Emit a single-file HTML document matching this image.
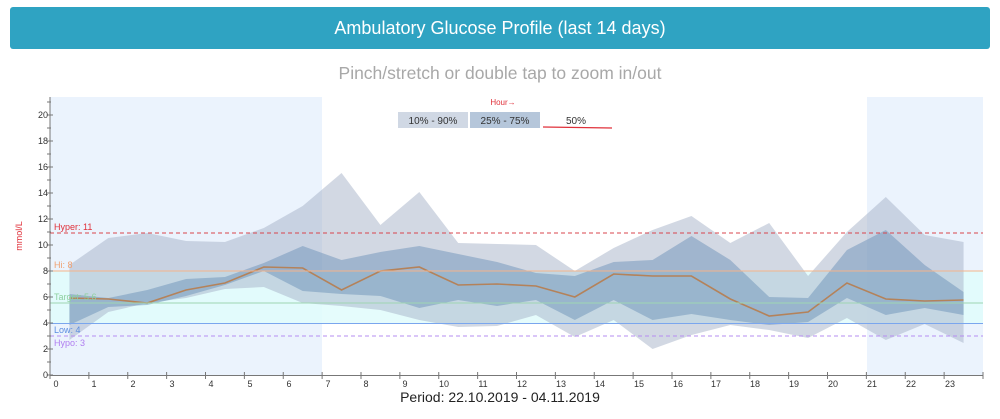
<!DOCTYPE html>
<html><head><meta charset="utf-8"><style>
body{margin:0;width:1000px;height:419px;background:#fff;font-family:"Liberation Sans",sans-serif;overflow:hidden;position:relative}
.hdr{position:absolute;left:10px;top:7px;width:980px;height:42px;background:#2fa3c2;border-radius:3px;color:#fff;font-size:18px;text-align:center;line-height:42px}
.sub{position:absolute;left:0;width:1000px;top:63px;text-align:center;color:#a8a8a8;font-size:17.5px}
svg{position:absolute;left:0;top:0}
</style></head><body>
<div class="hdr">Ambulatory Glucose Profile (last 14 days)</div>
<div class="sub">Pinch/stretch or double tap to zoom in/out</div>
<svg width="1000" height="419" font-family="Liberation Sans, sans-serif">
<rect x="50" y="97" width="272" height="278" fill="#ebf3fd"/>
<rect x="867" y="97" width="116" height="278" fill="#ebf3fd"/>
<rect x="50" y="271" width="933" height="52" fill="#e0fbfb" opacity="0.85"/>
<g id="bands"></g>
<line x1="50" y1="233" x2="983" y2="233" stroke="#d8444c" stroke-dasharray="4,3" stroke-width="1"/>
<line x1="50" y1="271" x2="983" y2="271" stroke="#f4b48a" stroke-width="1"/>
<line x1="50" y1="303" x2="983" y2="303" stroke="#9fd6b2" stroke-width="1"/>
<line x1="50" y1="323.5" x2="983" y2="323.5" stroke="#7aa6ee" stroke-width="1"/>
<line x1="50" y1="336" x2="983" y2="336" stroke="#b68cf2" stroke-dasharray="4,3" stroke-width="1"/>
<g font-size="9">
<text x="54" y="230" fill="#e0303a">Hyper: 11</text>
<text x="54" y="268" fill="#f0a070">Hi: 8</text>
<text x="54" y="300" fill="#8ed0a0">Target: 5.6</text>
<text x="54" y="333" fill="#5b8de0">Low: 4</text>
<text x="54" y="346" fill="#b07ef0">Hypo: 3</text>
</g>
<text x="22" y="236" font-size="9" fill="#e0303a" transform="rotate(-90 22 236)" text-anchor="middle">mmol/L</text>
<line x1="50" y1="97" x2="50" y2="376" stroke="#777"/>
<line x1="50" y1="375.5" x2="983" y2="375.5" stroke="#777"/>
<g id="ticks" stroke="#777"></g>
<g font-size="9" fill="#333" text-anchor="end">
<text x="48" y="378">0</text><text x="48" y="352">2</text><text x="48" y="326">4</text><text x="48" y="300">6</text><text x="48" y="274">8</text><text x="48" y="248">10</text><text x="48" y="222">12</text><text x="48" y="196">14</text><text x="48" y="170">16</text><text x="48" y="144">18</text><text x="48" y="118">20</text>
</g>
<g font-size="9" fill="#333" text-anchor="middle">
<text x="56" y="387">0</text><text x="94" y="387">1</text><text x="133" y="387">2</text><text x="172" y="387">3</text><text x="211" y="387">4</text><text x="250" y="387">5</text><text x="289" y="387">6</text><text x="328" y="387">7</text><text x="366" y="387">8</text><text x="405" y="387">9</text><text x="444" y="387">10</text><text x="483" y="387">11</text><text x="522" y="387">12</text><text x="561" y="387">13</text><text x="600" y="387">14</text><text x="639" y="387">15</text><text x="678" y="387">16</text><text x="716" y="387">17</text><text x="755" y="387">18</text><text x="794" y="387">19</text><text x="833" y="387">20</text><text x="872" y="387">21</text><text x="911" y="387">22</text><text x="950" y="387">23</text>
</g>
<text x="500" y="402" font-size="14" fill="#222" text-anchor="middle">Period: 22.10.2019 - 04.11.2019</text>
<text x="503" y="105" font-size="8" fill="#e0303a" text-anchor="middle">Hour→</text>
<rect x="398" y="112" width="70" height="16" fill="#d0d8e4"/>
<text x="433" y="124" font-size="10" fill="#333" text-anchor="middle">10% - 90%</text>
<rect x="470" y="112" width="70" height="16" fill="#b5c6da"/>
<text x="505" y="124" font-size="10" fill="#333" text-anchor="middle">25% - 75%</text>
<text x="576" y="124" font-size="10" fill="#333" text-anchor="middle">50%</text>
<line x1="543" y1="127" x2="612" y2="128" stroke="#e0303a" stroke-width="1.2"/>
</svg>
<script>
var X=[],i;for(i=0;i<24;i++)X.push(50+38.875*(i+0.5));
var u10=[265,238,233,241,242,228,206,173,225,192,243,244,245,271,248,230,216,243,223,276,232,197,235,242];
var l10=[340,312,303,298,289,287,303,306,310,320,327,326,315,337,320,349,335,325,330,338,318,340,324,343];
var u25=[294,298,290,279,277,263,246,260,252,246,254,262,273,276,262,260,236,260,297,298,250,230,265,292];
var l25=[325,307,305,296,285,271,291,294,296,308,300,306,300,320,300,320,314,320,325,322,298,315,308,315];
var med=[298,299,303,290,283,267,268,290,271,267,285,284,286,297,274,276,276,299,316,312,283,299,301,300];
function poly(u,l){var p=[];for(i=0;i<24;i++)p.push(X[i]+','+u[i]);for(i=23;i>=0;i--)p.push(X[i]+','+l[i]);return p.join(' ');}
var ns='http://www.w3.org/2000/svg',g=document.getElementById('bands');
function add(tag,a){var e=document.createElementNS(ns,tag);for(var k in a)e.setAttribute(k,a[k]);g.appendChild(e);}
add('polygon',{points:poly(u10,l10),fill:'rgba(165,178,200,0.5)'});
add('polygon',{points:poly(u25,l25),fill:'rgba(100,140,180,0.45)'});
add('polyline',{points:X.map(function(x,j){return x+','+med[j]}).join(' '),fill:'none',stroke:'#b4825a','stroke-width':1.6});
var t=document.getElementById('ticks');
for(i=0;i<=24;i++){var x=50+38.875*i;var e=document.createElementNS(ns,'line');e.setAttribute('x1',x);e.setAttribute('x2',x);e.setAttribute('y1',372);e.setAttribute('y2',379);t.appendChild(e);}
for(i=0;i<=21;i++){var y=375-13*i;var e=document.createElementNS(ns,'line');e.setAttribute('x1',47);e.setAttribute('x2',i%2?51:53);e.setAttribute('y1',y);e.setAttribute('y2',y);t.appendChild(e);}
</script>
</body></html>
